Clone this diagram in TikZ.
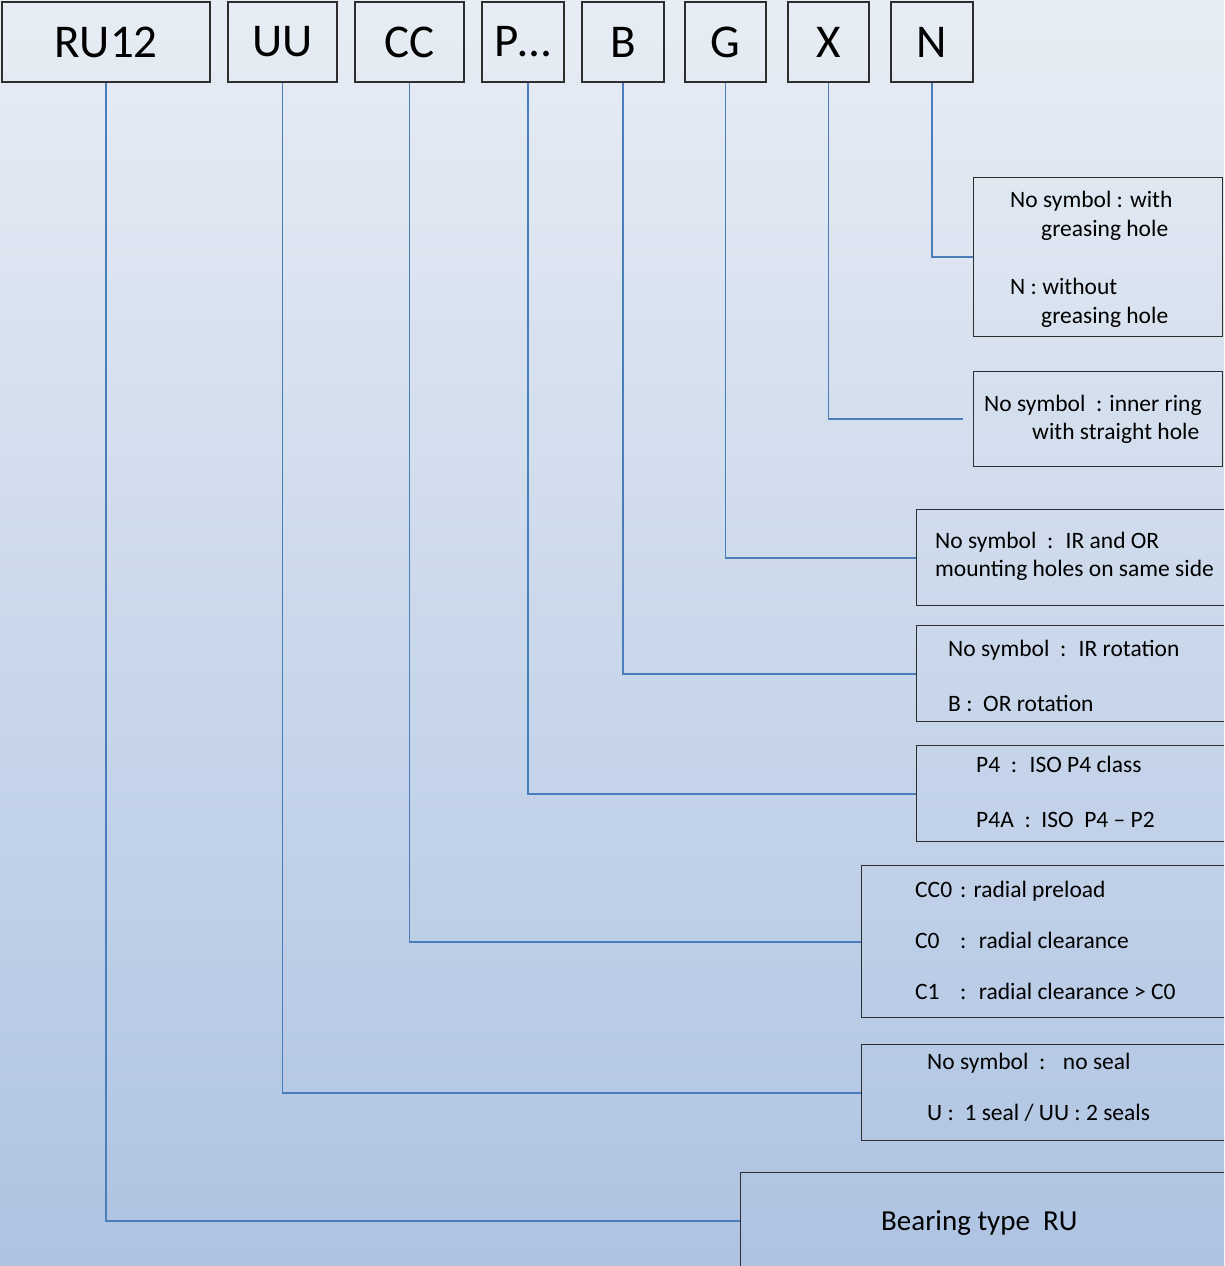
\documentclass[tikz,border=0pt]{standalone}
\usepackage{fontspec}
\setmainfont{Carlito}
\usepackage{xcolor}
\usepackage{tikz}
\usetikzlibrary{positioning}

\definecolor{bgtop}{HTML}{E7EDF4}
\definecolor{bgbot}{HTML}{AEC3E2}
\definecolor{linkblue}{HTML}{4A7EBB}
\definecolor{edgegray}{HTML}{2E2E2E}

\tikzset{
  tag/.style={draw=edgegray, line width=1.2pt, minimum height=80pt, inner sep=0pt,
    font=\fontsize{47}{50}\selectfont},
  note/.style={draw=edgegray, line width=1.2pt, anchor=north west, inner sep=0pt},
  txt/.style={anchor=base west, inner sep=0pt, font=\fontsize{23.5}{26}\selectfont},
  link/.style={linkblue, line width=1.8pt},
}

\begin{document}
\begin{tikzpicture}[x=1pt, y=-1pt]
    \useasboundingbox (0,0) rectangle (1224,1266);
    \clip (0,0) rectangle (1224,1266);
    \shade[top color=bgtop, bottom color=bgbot] (0,0) rectangle (1224,1266);

    % code letters
    \node[tag, minimum width=208pt] (ru12) at (106,42) {RU12};
    \node[tag, minimum width=109pt] (uu) at (282.5,42) {UU};
    \node[tag, minimum width=109pt] (cc) at (409.5,42) {CC};
    \node[tag, minimum width=82pt] (p) at (523,42) {P…};
    \node[tag, minimum width=82pt] (b) at (623,42) {B};
    \node[tag, minimum width=81pt] (g) at (725.5,42) {G};
    \node[tag, minimum width=81pt] (x) at (828.5,42) {X};
    \node[tag, minimum width=82pt] (n) at (932,42) {N};

    % explanation boxes
    \node[note, minimum width=249pt, minimum height=159pt] (nbox) at (973,177) {};
    \node[note, minimum width=249pt, minimum height=95pt] (xbox) at (973,371) {};
    \node[note, minimum width=330pt, minimum height=96pt] (gbox) at (916,509) {};
    \node[note, minimum width=330pt, minimum height=96pt] (bbox) at (916,625) {};
    \node[note, minimum width=330pt, minimum height=96pt] (pbox) at (916,745) {};
    \node[note, minimum width=390pt, minimum height=152pt] (ccbox) at (861,865) {};
    \node[note, minimum width=390pt, minimum height=96pt] (uubox) at (861,1044) {};
    \node[note, minimum width=510pt, minimum height=96pt] (rubox) at (740,1172) {};

    \node[txt] (n1) at (1010,207) {No symbol : with};
    \node[txt] (n2) at (1041,236) {greasing hole};
    \node[txt] (n3) at (1010,294) {N : without};
    \node[txt] (n4) at (1041,323) {greasing hole};

    \node[txt] (x1) at (984,411) {No symbol~ : inner ring};
    \node[txt] (x2) at (1032,439) {with straight hole};

    \node[txt] (g1) at (935,548) {No symbol~ :~ IR and OR};
    \node[txt] (g2) at (935,576) {mounting holes on same side};

    \node[txt] (b1) at (948,656) {No symbol~ :~ IR rotation};
    \node[txt] (b2) at (948,711) {B :~ OR rotation};

    \node[txt] (p1) at (976,772) {P4~ :~ ISO P4 class};
    \node[txt] (p2) at (976,827) {P4A~ :~ ISO~ P4 – P2};

    \node[txt] (c1) at (915,897) {\makebox[45pt][l]{CC0}: radial preload};
    \node[txt] (c2) at (915,948) {\makebox[45pt][l]{C0}:~ radial clearance};
    \node[txt] (c3) at (915,999) {\makebox[45pt][l]{C1}:~ radial clearance > C0};

    \node[txt] (u1) at (927,1069) {No symbol~ :~~ no seal};
    \node[txt] (u2) at (927,1120) {U :~ 1 seal / UU : 2 seals};

    \node[txt, font=\fontsize{29}{32}\selectfont] (r1) at (881,1230) {Bearing type~ RU};

    % leaders
    \draw[link] (n.south) |- (nbox.west);
    \draw[link, shorten >=10pt] (x.south) |- (xbox.west);
    \draw[link] (g.south) |- (gbox.west);
    \draw[link] (b.south) |- (bbox.west);
    \draw[link] ([xshift=5pt]p.south) |- (pbox.west);
    \draw[link] (cc.south) |- (ccbox.west);
    \draw[link] (uu.south) |- (uubox.west);
    \draw[link] (ru12.south) |- (rubox.west);
\end{tikzpicture}
\end{document}
